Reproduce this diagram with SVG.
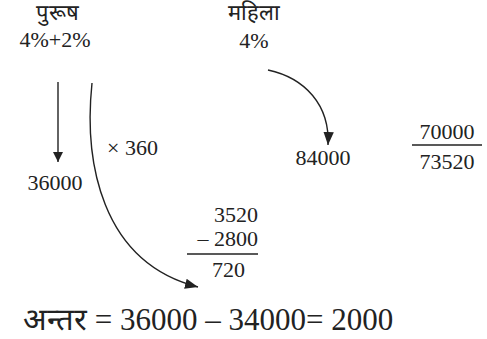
<svg xmlns="http://www.w3.org/2000/svg" width="487" height="339" viewBox="0 0 487 339">
<defs>
<marker id="ah" viewBox="0 0 10 10" refX="10" refY="5" markerWidth="10" markerHeight="10" markerUnits="userSpaceOnUse" orient="auto">
<path d="M0,0 L10,5 L0,10 Z" fill="#222"/>
</marker>
<marker id="ah2" viewBox="0 0 10 10" refX="10" refY="5" markerWidth="13" markerHeight="13" markerUnits="userSpaceOnUse" orient="auto">
<path d="M0,1 L10,5 L0,9 Z" fill="#222"/>
</marker>
</defs>
<g id="purush">
<text font-family="Times New Roman, Liberation Serif, serif" font-size="22" fill="#222" text-anchor="middle" x="57" y="20">पुरूष</text>
<text font-family="Times New Roman, Liberation Serif, serif" font-size="22" fill="#222" text-anchor="middle" x="55" y="47">4%+2%</text>
</g>
<g id="mahila">
<text font-family="Times New Roman, Liberation Serif, serif" font-size="22" fill="#222" text-anchor="middle" x="254" y="20">महिला</text>
<text font-family="Times New Roman, Liberation Serif, serif" font-size="22" fill="#222" text-anchor="middle" x="254" y="48">4%</text>
</g>
<g id="n36000"><text font-family="Times New Roman, Liberation Serif, serif" font-size="22" fill="#222" text-anchor="middle" x="55" y="190">36000</text></g>
<g id="times360"><text font-family="Times New Roman, Liberation Serif, serif" font-size="22" fill="#222" x="107" y="155">× 360</text></g>
<g id="n84000"><text font-family="Times New Roman, Liberation Serif, serif" font-size="22" fill="#222" text-anchor="middle" x="323" y="165">84000</text></g>
<g id="frac">
<text font-family="Times New Roman, Liberation Serif, serif" font-size="22" fill="#222" text-anchor="middle" x="447" y="139">70000</text>
<line x1="412" y1="145" x2="482" y2="145" stroke="#222" stroke-width="1.4"/>
<text font-family="Times New Roman, Liberation Serif, serif" font-size="22" fill="#222" text-anchor="middle" x="447" y="169">73520</text>
</g>
<g id="sub">
<text font-family="Times New Roman, Liberation Serif, serif" font-size="22" fill="#222" text-anchor="end" x="258" y="222">3520</text>
<text font-family="Times New Roman, Liberation Serif, serif" font-size="22" fill="#222" text-anchor="end" x="258" y="246">– 2800</text>
<line x1="187" y1="254" x2="258" y2="254" stroke="#222" stroke-width="1.4"/>
<text font-family="Times New Roman, Liberation Serif, serif" font-size="22" fill="#222" text-anchor="end" x="245" y="277">720</text>
</g>
<g id="result"><text font-family="Times New Roman, Liberation Serif, serif" font-size="31" fill="#222" x="23" y="330">अन्तर = 36000 – 34000= 2000</text></g>
<g id="connectors" stroke="#222" stroke-width="1.4" fill="none">
<line x1="58" y1="82" x2="58" y2="162" marker-end="url(#ah)"/>
<path d="M92,83 C84,160 100,262 198,287" marker-end="url(#ah2)"/>
<path d="M268,70 C305,78 330,105 328,145" marker-end="url(#ah2)"/>
</g>
</svg>
